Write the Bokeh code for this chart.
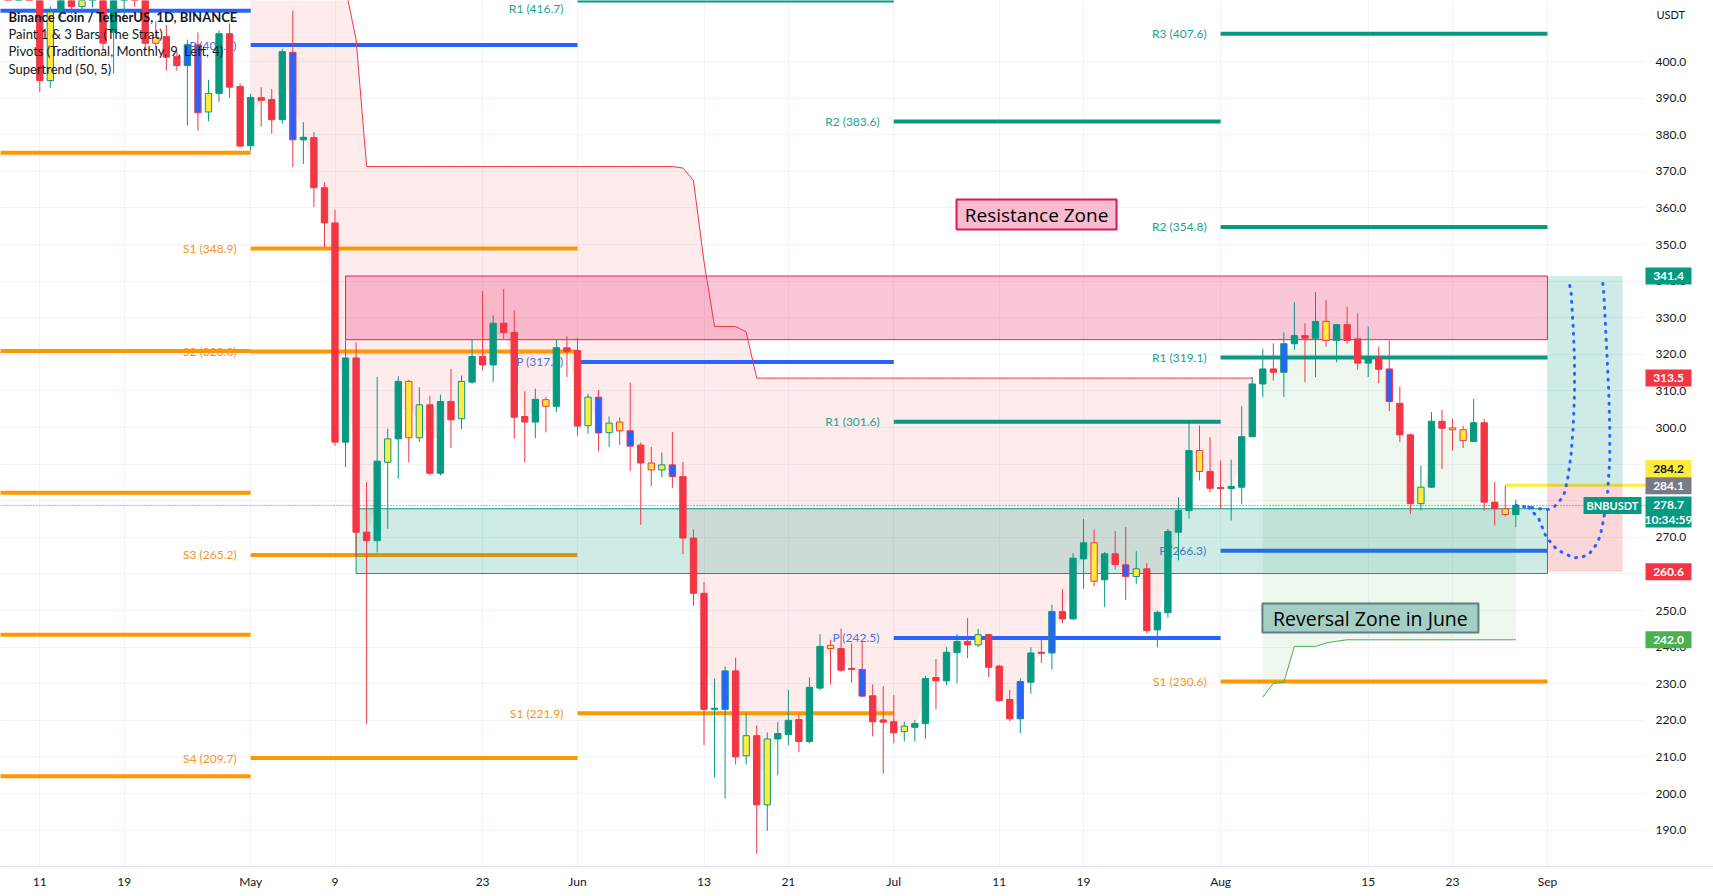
import pandas as pd
from bokeh.plotting import figure
from bokeh.models import Range1d, FixedTicker
from bokeh.core.properties import value
from bokeh.embed import file_html
from bokeh.resources import INLINE

# ---------------- data (BNB/USDT, 1D) ----------------
first_bar = "2022-04-08"
opens = [432, 428, 432, 421, 394.8, 414.1, 422, 415, 418, 421,
         408.0, 419, 424, 425, 406.6, 406.8, 401.4, 398.9, 404.6, 386.2,
         391.3, 407.6, 393.2, 377.0, 390.1, 389.6, 384.1, 402.5, 378.6, 379.2,
         365.5, 355.9, 296.0, 319.0, 271.4, 269.1, 290.5, 296.9, 312.6, 297.2,
         306.2, 287.5, 307.1, 302.4, 312.4, 319.4, 317.1, 328.5, 326.0, 303.0,
         301.5, 307.6, 305.8, 321.8, 321.0, 300.5, 308.3, 298.6, 301.5, 299.1,
         295.2, 290.3, 288.4, 289.8, 286.6, 269.8, 254.7, 223.0, 223.0, 233.5,
         210.3, 215.8, 196.9, 214.9, 216.1, 220.2, 214.2, 228.8, 240.5, 239.6,
         234.2, 233.9, 226.7, 220.1, 219.6, 216.9, 218.1, 219.1, 231.7, 230.8,
         238.5, 241.5, 240.6, 243.4, 234.8, 225.7, 220.4, 230.4, 238.6, 238.4,
         249.7, 247.7, 264.1, 268.5, 258.4, 265.5, 262.5, 259.3, 261.4, 244.7,
         249.4, 271.4, 277.3, 293.7, 288.0, 283.6, 283.3, 283.7, 297.5, 311.9,
         316.0, 315.1, 322.9, 325.1, 324.4, 329.0, 323.8, 328.1, 324.2, 317.6,
         319.2, 316.0, 306.6, 298.0, 279.2, 283.7, 301.7, 299.9, 299.4, 296.2,
         301.3, 279.6, 277.8, 276.2]
highs = [440, 436, 434, 424, 415, 423, 425, 420, 421, 423,
         421, 428, 430, 432, 411, 410, 403, 406, 408, 395,
         408.5, 410.4, 394, 391.2, 393.0, 392.5, 403.5, 413.9, 383.4, 380.7,
         367.0, 359.5, 323.8, 323.3, 285.1, 313.8, 299.7, 314.0, 313.0, 311.0,
         308.7, 309.0, 316.0, 314.2, 324.0, 337.3, 330.6, 337.9, 332.0, 309.9,
         310.6, 308.3, 324.0, 324.9, 324.5, 309.2, 310.3, 303.0, 302.7, 312.3,
         295.9, 294.7, 293.2, 298.8, 290.6, 272.2, 257.8, 231.4, 234.7, 237.1,
         222.0, 218.6, 216.7, 219.6, 228.3, 221.5, 231.7, 243.5, 242.0, 245.1,
         241.0, 241.5, 229.8, 229.3, 226.9, 219.6, 220.0, 232.2, 236.7, 240.0,
         243.6, 247.9, 245.0, 243.6, 235.2, 228.3, 231.5, 240.0, 242.0, 251.6,
         255.9, 265.7, 275.0, 272.1, 266.0, 271.7, 272.8, 266.2, 262.9, 250.0,
         272.3, 281.0, 301.9, 300.5, 297.3, 291.0, 291.2, 305.8, 313.8, 321.5,
         323.0, 326.0, 334.2, 328.5, 337.0, 334.9, 328.3, 333.0, 331.2, 327.6,
         322.1, 323.8, 311.2, 298.4, 289.6, 304.2, 304.8, 302.4, 300.5, 307.8,
         302.4, 285.1, 284.1, 280.3]
lows = [425, 424, 418, 391.6, 392.8, 412, 413, 414, 414.8, 403,
        396.7, 412, 415, 403, 403.5, 397.5, 397.5, 382.5, 381.1, 383.7,
        388.9, 390.1, 376.6, 375.7, 382.2, 380.3, 383.0, 371.1, 372.0, 360.2,
        349.3, 295.0, 289.2, 265.0, 219.0, 265.9, 272.3, 286.0, 290.5, 296.0,
        286.9, 286.9, 294.4, 299.6, 312.0, 315.6, 312.4, 324.2, 296.9, 290.5,
        297.1, 298.7, 304.2, 313.8, 297.8, 298.3, 293.5, 294.7, 295.2, 288.1,
        273.4, 284.0, 286.4, 283.5, 265.4, 251.3, 213.2, 204.4, 198.6, 207.9,
        207.9, 183.5, 189.8, 205.0, 213.2, 211.3, 213.7, 228.3, 229.8, 233.2,
        230.3, 226.4, 215.6, 205.4, 213.7, 214.2, 214.2, 215.0, 223.0, 229.6,
        230.1, 237.0, 240.0, 231.8, 225.0, 219.8, 216.5, 227.3, 235.6, 233.9,
        246.5, 247.5, 255.9, 256.6, 250.9, 261.2, 252.9, 257.3, 243.8, 240.0,
        248.0, 263.7, 275.1, 285.5, 282.3, 277.8, 274.6, 279.0, 297.3, 308.3,
        312.8, 308.3, 321.2, 312.4, 313.8, 322.1, 317.8, 322.9, 315.8, 313.8,
        312.1, 304.5, 296.0, 276.4, 277.3, 283.5, 288.7, 293.7, 294.4, 296.0,
        277.3, 273.2, 275.7, 272.8]
closes = [428, 432, 421, 394.8, 413.5, 421, 415.0, 418, 419.5, 405.0,
          419, 424, 421, 405.0, 405.0, 401.2, 398.9, 404.6, 386.0, 391.3,
          407.6, 393.0, 376.9, 390.2, 389.4, 384.1, 402.7, 378.6, 379.3, 365.5,
          355.9, 296.0, 319.0, 271.4, 269.1, 290.8, 296.9, 312.6, 297.2, 306.2,
          287.5, 307.1, 302.1, 312.6, 319.4, 317.1, 328.5, 325.9, 302.8, 301.5,
          307.7, 305.8, 321.8, 320.8, 300.4, 308.3, 298.5, 301.2, 299.1, 294.9,
          290.3, 288.4, 289.8, 286.6, 269.8, 254.7, 223.0, 223.3, 233.5, 210.0,
          215.8, 196.9, 214.9, 216.4, 220.0, 214.2, 229.0, 240.2, 239.6, 233.7,
          233.9, 226.6, 219.6, 219.5, 216.6, 218.4, 219.1, 231.4, 230.8, 238.6,
          241.5, 240.6, 243.4, 234.5, 225.4, 220.4, 230.6, 238.4, 238.3, 249.7,
          247.7, 264.3, 268.5, 258.0, 265.5, 262.5, 259.3, 261.4, 244.5, 249.5,
          271.6, 277.3, 293.7, 288.0, 283.4, 283.3, 283.9, 297.5, 311.9, 316.0,
          315.1, 322.9, 325.1, 324.4, 329.0, 323.8, 328.1, 323.8, 317.6, 319.2,
          315.9, 307.1, 298.0, 279.2, 283.7, 301.7, 299.8, 299.4, 296.4, 301.3,
          279.6, 277.8, 276.2, 278.7]
# "Paint 1 & 3 Bars (The Strat)": n = normal, i = inside bar (yellow), o = outside bar (blue)
bar_kind = ("nnnninninn" "nnnninnooi" "nnnnnnnonn" "nnnnnninii" "nnninnnnnn"
            "ninnnioiio" "niionnnnon" "ininnnnnin" "nonnninnnn" "nninnnonno"
            "nnninnoinn" "nnninnnnnn" "nonnninnnn" "nonninniin" "nnin")

# Supertrend (50, 5)
supertrend_down_start = "2022-05-01"
supertrend_down = [446.0, 446.0, 446.0, 446.0, 446.0, 440.0, 436.0, 432.0, 428.0, 420.0,
                   406.0, 371.3, 371.3, 371.3, 371.3, 371.3, 371.3, 371.3, 371.3, 371.3,
                   371.3, 371.3, 371.3, 371.3, 371.3, 371.3, 371.3, 371.3, 371.3, 371.3,
                   371.3, 371.3, 371.3, 371.3, 371.3, 371.3, 371.3, 371.3, 371.3, 371.3,
                   371.3, 370.9, 367.5, 345.3, 327.6, 327.6, 327.6, 326.1, 313.5, 313.5,
                   313.5, 313.5, 313.5, 313.5, 313.5, 313.5, 313.5, 313.5, 313.5, 313.5,
                   313.5, 313.5, 313.5, 313.5, 313.5, 313.5, 313.5, 313.5, 313.5, 313.5,
                   313.5, 313.5, 313.5, 313.5, 313.5, 313.5, 313.5, 313.5, 313.5, 313.5,
                   313.5, 313.5, 313.5, 313.5, 313.5, 313.5, 313.5, 313.5, 313.5, 313.5,
                   313.5, 313.5, 313.5, 313.5, 313.5, 313.5]
supertrend_up_start = "2022-08-05"
supertrend_up = [226.3, 230.1, 230.4, 240.2, 240.2, 240.2, 241.1, 241.6, 242.0, 242.0,
                 242.0, 242.0, 242.0, 242.0, 242.0, 242.0, 242.0, 242.0, 242.0, 242.0,
                 242.0, 242.0, 242.0, 242.0, 242.0]

# Pivots (Traditional, Monthly)
month_starts = ["2022-04-01", "2022-05-01", "2022-06-01", "2022-07-01", "2022-08-01", "2022-09-01"]
pivot_month = [0, 0, 0, 0, 0, 0, 1, 1, 1, 1, 1, 2, 2, 2, 3, 3, 3, 4, 4, 4, 4, 4]
pivot_name = ["P", "S1", "S2", "S3", "S4", "S5",
              "P", "S1", "S2", "S3", "S4",
              "R1", "P", "S1",
              "R2", "R1", "P",
              "R3", "R2", "R1", "P", "S1"]
pivot_value = [413.9, 375.1, 320.9, 282.2, 243.4, 204.7,
               404.5, 348.9, 320.8, 265.2, 209.7,
               416.7, 317.9, 221.9,
               383.6, 301.6, 242.5,
               407.6, 354.8, 319.1, 266.3, 230.6]

# Drawings
resistance_zone = dict(start="2022-05-10", end="2022-09-01", low=324.0, high=341.4)
reversal_zone = dict(start="2022-05-11", end="2022-09-01", low=260.1, high=277.8)
long_position = dict(start="2022-09-01", end="2022-09-08 03:00", target=341.4, entry=284.1, stop=260.6)
yellow_level = dict(start="2022-08-28", price=284.2)
last_price = 278.7
countdown = "10:34:59"
supertrend_last_down = 313.5
supertrend_last_up = 242.0
resistance_note = dict(text="Resistance Zone", at="2022-07-14 13:00", price=358.2)
reversal_note = dict(text="Reversal Zone in June", at="2022-08-15 05:00", price=247.95)
# hand-drawn projection paths (days after last bar, price)
proj_a_days = [0, 1.23, 2.98, 3.67, 4.24, 4.65, 4.97, 5.25, 5.44, 5.57, 5.57, 5.44, 5.25, 5.12]
proj_a_price = [278.7, 278.23, 277.52, 278.42, 280.25, 282.33, 286.89, 292.82, 300.09, 309.21,
                318.31, 327.41, 336.53, 338.80]
proj_b_days = [1.23, 2.18, 2.82, 3.29, 3.92, 4.71, 5.44, 6.30, 7.02, 7.56, 7.96, 8.19, 8.41,
               8.60, 8.72, 8.91, 8.91, 8.82, 8.67, 8.51, 8.35, 8.19]
proj_b_price = [278.23, 275.06, 270.49, 268.66, 266.59, 265.49, 264.40, 264.56, 265.66, 267.76,
                270.03, 272.76, 276.42, 280.06, 282.79, 290.99, 300.09, 309.21, 318.31, 327.41,
                336.53, 341.07]

tick_dates = ["2022-04-11", "2022-04-19", "2022-05-01", "2022-05-09", "2022-05-23", "2022-06-01",
              "2022-06-13", "2022-06-21", "2022-07-01", "2022-07-11", "2022-07-19", "2022-08-01",
              "2022-08-15", "2022-08-23", "2022-09-01"]
tick_labels = ["11", "19", "May", "9", "23", "Jun", "13", "21", "Jul", "11", "19", "Aug", "15", "23", "Sep"]
price_ticks = [190, 200, 210, 220, 230, 240, 250, 260, 270, 280, 290, 300, 310,
               320, 330, 340, 350, 360, 370, 380, 390, 400]

legend_lines = ["Binance Coin / TetherUS, 1D, BINANCE", "Paint 1 & 3 Bars (The Strat)",
                "Pivots (Traditional, Monthly, 9, Left, 4)", "Supertrend (50, 5)"]

# ---------------- layout / styling ----------------
FONT = "Lato"
NOTE_FONT = "Open Sans"
UP, DOWN = "#089981", "#f23645"
PAGE_W, FRAME_H, AXIS_H = 1713, 866, 30
PX_DAY, PX_PRICE = 10.543, 3.66          # horizontal / vertical scale (pixels per day / per USDT)
X0 = -39.3 / PX_DAY                      # 11 Apr bar sits 39 px from the left edge
X1 = X0 + PAGE_W / PX_DAY
Y1 = 416.67
Y0 = Y1 - FRAME_H / PX_PRICE
PANE_RIGHT = 1645                        # left edge of the price scale

origin = pd.Timestamp("2022-04-11")


def day(ts):
    return (pd.Timestamp(ts) - origin) / pd.Timedelta(days=1)


def sx(px):  # page x -> day
    return X0 + px / PX_DAY


def sy(px):  # page y -> price
    return Y1 - px / PX_PRICE


p = figure(frame_width=PAGE_W, frame_height=FRAME_H, output_backend="svg", toolbar_location=None,
           x_range=Range1d(X0, X1), y_range=Range1d(Y0, Y1),
           min_border_left=0, min_border_top=0, min_border_right=0, min_border_bottom=AXIS_H)
p.outline_line_color = None
p.background_fill_color = "white"
p.border_fill_color = "white"
p.yaxis.visible = False

tick_days = [day(t) for t in tick_dates]
p.xaxis.ticker = FixedTicker(ticks=tick_days)
p.xgrid.ticker = FixedTicker(ticks=tick_days)
p.ygrid.ticker = FixedTicker(ticks=price_ticks)
p.xaxis.major_label_overrides = {d: l for d, l in zip(tick_days, tick_labels)}
p.xaxis.major_tick_line_color = None
p.xaxis.minor_tick_line_color = None
p.xaxis.major_tick_out = 0
p.xaxis.major_label_text_font = FONT
p.xaxis.major_label_text_font_size = "12px"
p.xaxis.major_label_text_color = "#131722"
p.xaxis.axis_line_color = "#e0e3eb"
p.xaxis.major_label_standoff = 7
p.grid.grid_line_color = "#f0f3fa"

bar_x = [day(t) for t in pd.date_range(first_bar, periods=len(opens), freq="D")]
mids = [(o + c) / 2 for o, c in zip(opens, closes)]
xi = {round(x): i for i, x in enumerate(bar_x)}

# supertrend fills
d0 = day(supertrend_down_start)
dn_x = [d0 + k for k in range(len(supertrend_down))]
p.varea(x=dn_x, y1=supertrend_down, y2=[mids[xi[round(x)]] for x in dn_x], fill_color=DOWN, fill_alpha=0.1)
u0 = day(supertrend_up_start)
up_x = [u0 + k for k in range(len(supertrend_up))]
p.varea(x=up_x, y1=supertrend_up, y2=[mids[xi[round(x)]] for x in up_x], fill_color="#4caf50", fill_alpha=0.1)

# pivot lines
piv_col = {"R": UP, "P": "#2962ff", "S": "#ff9800"}
lab_col = {"R": "#22a38d", "P": "#4a6fe3", "S": "#f7931a"}
px0 = [day(month_starts[m]) for m in pivot_month]
px1 = [day(month_starts[m + 1]) for m in pivot_month]
p.segment(x0=px0, y0=pivot_value, x1=px1, y1=pivot_value,
          line_color=[piv_col[n[0]] for n in pivot_name], line_width=4)
lab = [(x, v, n) for x, v, n in zip(px0, pivot_value, pivot_name) if x > X0]
top_limit = Y1 - 7 / PX_PRICE
p.text(x=[x for x, v, n in lab], y=[min(v, Y1) for x, v, n in lab],
       text=[f"{n} ({v:.1f})" for x, v, n in lab],
       x_offset=-14, text_align="right",
       text_baseline=["top" if v > top_limit else "middle" for x, v, n in lab],
       text_font=value(FONT), text_font_size="12px", text_color=[lab_col[n[0]] for x, v, n in lab])

# yellow level line
p.segment(x0=[day(yellow_level["start"])], y0=[yellow_level["price"]], x1=[sx(PANE_RIGHT)],
          y1=[yellow_level["price"]], line_color="#ffeb3b", line_width=3)

# zones
p.quad(left=[day(resistance_zone["start"])], right=[day(resistance_zone["end"])],
       bottom=[resistance_zone["low"]], top=[resistance_zone["high"]],
       fill_color="#e91e63", fill_alpha=0.25, line_color="#e91e63", line_width=1)
p.quad(left=[day(reversal_zone["start"])], right=[day(reversal_zone["end"])],
       bottom=[reversal_zone["low"]], top=[reversal_zone["high"]],
       fill_color=UP, fill_alpha=0.2, line_color=UP, line_width=1)
lp0, lp1 = day(long_position["start"]), day(long_position["end"])
p.quad(left=[lp0], right=[lp1], bottom=[long_position["entry"]], top=[long_position["target"]],
       fill_color=UP, fill_alpha=0.2, line_color=None)
p.quad(left=[lp0], right=[lp1], bottom=[long_position["stop"]], top=[long_position["entry"]],
       fill_color=DOWN, fill_alpha=0.2, line_color=None)

# supertrend lines
p.line(dn_x, supertrend_down, line_color=DOWN, line_width=1)
p.line(up_x, supertrend_up, line_color="#4caf50", line_width=1)

# candles
up = [c >= o for o, c in zip(opens, closes)]
dir_col = [UP if u else DOWN for u in up]
body_col = [{"i": "#ffeb3b", "o": "#2962ff"}.get(k, dc) for k, dc in zip(bar_kind, dir_col)]
p.segment(x0=bar_x, y0=highs, x1=bar_x, y1=lows, line_color=dir_col, line_width=1)
p.vbar(x=bar_x, width=0.6, top=[max(o, c) for o, c in zip(opens, closes)],
       bottom=[min(o, c) for o, c in zip(opens, closes)], fill_color=body_col, line_color=dir_col, line_width=1)

# current price dotted line
p.segment(x0=[X0], y0=[last_price], x1=[sx(PANE_RIGHT)], y1=[last_price], line_color=UP,
          line_dash="1 2", line_width=1)

# projection paths
last_x = bar_x[-1]
p.line([last_x + d for d in proj_a_days], proj_a_price, line_color="#2962ff", line_width=3,
       line_dash="1 7", line_cap="round")
p.line([last_x + d for d in proj_b_days], proj_b_price, line_color="#2962ff", line_width=3,
       line_dash="1 7", line_cap="round")

# text notes
for note, w, h, fill, border, size in [(resistance_note, 160, 30, "#f8bbd0", "#d81b60", "19px"),
                                       (reversal_note, 216, 29, "#a5cfc5", "#5f7f82", "19.5px")]:
    cx, cy = day(note["at"]), note["price"]
    p.quad(left=[cx - w / 2 / PX_DAY], right=[cx + w / 2 / PX_DAY], bottom=[cy - h / 2 / PX_PRICE],
           top=[cy + h / 2 / PX_PRICE], fill_color=fill, line_color=border, line_width=2)
    p.text(x=[cx], y=[cy], text=[note["text"]], text_align="center", text_baseline="middle",
           text_font=value(NOTE_FONT), text_font_size=size, text_color="#000000")

# legend
p.text(x=[sx(8)] * len(legend_lines), y=[sy(16 + 17.4 * k) for k in range(len(legend_lines))],
       text=legend_lines, text_baseline="middle", text_font=value(FONT), text_font_size="13px",
       text_color="#131722", text_font_style=["bold"] + ["normal"] * (len(legend_lines) - 1))

# symbol tag on the price line
p.quad(left=[sx(1583)], right=[sx(1641)], bottom=[last_price - 8.5 / PX_PRICE], top=[last_price + 8.5 / PX_PRICE],
       fill_color=UP, line_color=None)
p.text(x=[sx(1612)], y=[last_price], text=["BNBUSDT"], text_align="center", text_baseline="middle",
       text_font=value(FONT), text_font_size="11px", text_font_style="bold", text_color="white")

# ---------------- price scale (drawn on the right of the pane) ----------------
p.quad(left=[sx(PANE_RIGHT)], right=[X1 + 1], bottom=[Y0 - 1], top=[Y1 + 1], fill_color="white", line_color=None)
p.text(x=[sx(1655)] * len(price_ticks), y=price_ticks, text=[f"{t:.1f}" for t in price_ticks],
       text_baseline="middle", text_font=value(FONT), text_font_size="12px", text_color="#131722")
p.text(x=[sx(1656)], y=[sy(14)], text=["USDT"], text_baseline="middle", text_font=value(FONT),
       text_font_size="11px", text_color="#131722")

tags = [(long_position["target"], f"{long_position['target']:.1f}", UP, "white"),
        (supertrend_last_down, f"{supertrend_last_down:.1f}", DOWN, "white"),
        (sy(468), f"{yellow_level['price']:.1f}", "#ffeb3b", "#131722"),
        (long_position["entry"], f"{long_position['entry']:.1f}", "#787b86", "white"),
        (long_position["stop"], f"{long_position['stop']:.1f}", DOWN, "white"),
        (supertrend_last_up, f"{supertrend_last_up:.1f}", "#4caf50", "white")]
tl, tr = sx(PANE_RIGHT), sx(1691)
p.quad(left=[tl] * len(tags), right=[tr] * len(tags), bottom=[t[0] - 8.5 / PX_PRICE for t in tags],
       top=[t[0] + 8.5 / PX_PRICE for t in tags], fill_color=[t[2] for t in tags], line_color=None)
p.text(x=[(tl + tr) / 2] * len(tags), y=[t[0] for t in tags], text=[t[1] for t in tags],
       text_align="center", text_baseline="middle", text_font=value(FONT), text_font_size="12px",
       text_font_style="bold", text_color=[t[3] for t in tags])
# last price + countdown
p.quad(left=[tl], right=[tr], bottom=[last_price - 22 / PX_PRICE], top=[last_price + 9 / PX_PRICE],
       fill_color=UP, line_color=None)
p.text(x=[(tl + tr) / 2] * 2, y=[last_price, last_price - 14 / PX_PRICE],
       text=[f"{last_price:.1f}", countdown], text_align="center", text_baseline="middle",
       text_font=value(FONT), text_font_size="12px", text_font_style="bold", text_color="white")

open("out.html", "w").write(file_html(p, INLINE))
